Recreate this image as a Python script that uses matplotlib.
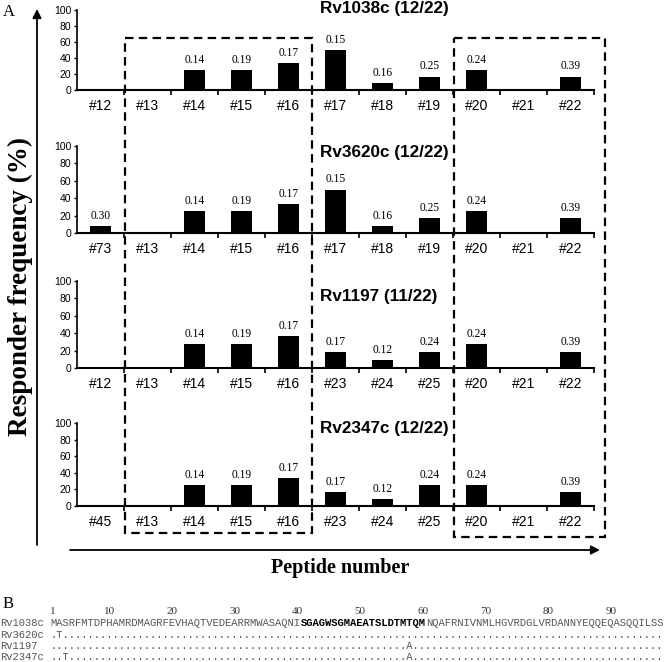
import matplotlib
matplotlib.use("Agg")
import matplotlib.pyplot as plt
from matplotlib.patches import Rectangle

W, H = 664, 662
DPI = 100

# ---------------- data ----------------
titles = ["Rv1038c (12/22)", "Rv3620c (12/22)", "Rv1197 (11/22)", "Rv2347c (12/22)"]

cats_1 = ["#12", "#13", "#14", "#15", "#16", "#17", "#18", "#19", "#20", "#21", "#22"]
vals_1 = [0, 0, 25, 25, 33.3, 50, 8.3, 16.7, 25, 0, 16.7]
lbls_1 = ["", "", "0.14", "0.19", "0.17", "0.15", "0.16", "0.25", "0.24", "", "0.39"]

cats_2 = ["#73", "#13", "#14", "#15", "#16", "#17", "#18", "#19", "#20", "#21", "#22"]
vals_2 = [8.3, 0, 25, 25, 33.3, 50, 8.3, 16.7, 25, 0, 16.7]
lbls_2 = ["0.30", "", "0.14", "0.19", "0.17", "0.15", "0.16", "0.25", "0.24", "", "0.39"]

cats_3 = ["#12", "#13", "#14", "#15", "#16", "#23", "#24", "#25", "#20", "#21", "#22"]
vals_3 = [0, 0, 27.3, 27.3, 36.4, 18.2, 9.1, 18.2, 27.3, 0, 18.2]
lbls_3 = ["", "", "0.14", "0.19", "0.17", "0.17", "0.12", "0.24", "0.24", "", "0.39"]

cats_4 = ["#45", "#13", "#14", "#15", "#16", "#23", "#24", "#25", "#20", "#21", "#22"]
vals_4 = [0, 0, 25, 25, 33.3, 16.7, 8.3, 25, 25, 0, 16.7]
lbls_4 = ["", "", "0.14", "0.19", "0.17", "0.17", "0.12", "0.24", "0.24", "", "0.39"]

yticks = [0, 20, 40, 60, 80, 100]

seq_names = ["Rv1038c", "Rv3620c", "Rv1197", "Rv2347c"]
seq_pre = "MASRFMTDPHAMRDMAGRFEVHAQTVEDEARRMWASAQNI"
seq_bold = "SGAGWSGMAEATSLDTMTQM"
seq_post = "NQAFRNIVNMLHGVRDGLVRDANNYEQQEQASQQILSS"
seq_rows = [
    None,
    ".T" + "." * 96,
    "." * 57 + "A" + "." * 40,
    "..T" + "." * 54 + "A" + "." * 40,
]
seq_numbers = [1, 10, 20, 30, 40, 50, 60, 70, 80, 90]

# ---------------- layout helpers ----------------
def rect(x0, ytop, x1, ybot):
    return [x0 / W, 1 - ybot / H, (x1 - x0) / W, (ybot - ytop) / H]

fig = plt.figure(figsize=(W / DPI, H / DPI), dpi=DPI)
fig.patch.set_facecolor("white")

SANS = "Liberation Sans"
SERIF = "Liberation Serif"
MONO = "Liberation Mono"

panels = [
    (cats_1, vals_1, lbls_1, (10, 90), (320, 8)),
    (cats_2, vals_2, lbls_2, (146, 233), (320, 152)),
    (cats_3, vals_3, lbls_3, (281, 368), (320, 297)),
    (cats_4, vals_4, lbls_4, (423, 506), (320, 429)),
]

X0, X1 = 77, 594

for (cats, vals, lbls, (yt, yb), _), title in zip(panels, titles):
    ax = fig.add_axes(rect(X0, yt, X1, yb))
    xs = list(range(len(cats)))
    bars = ax.bar(xs, vals, width=0.45, color="black", zorder=3)
    for b, t in zip(bars, lbls):
        if t:
            ax.annotate(t, (b.get_x() + b.get_width() / 2, b.get_height()),
                        xytext=(0, 3), textcoords="offset points",
                        ha="center", va="bottom", fontsize=8.3, family=SERIF)
    ax.set_xlim(-0.5, len(cats) - 0.5)
    ax.set_ylim(0, 100)
    ax.set_yticks(yticks)
    ax.set_yticklabels([str(v) for v in yticks], fontsize=7.5, family=SANS)
    ax.set_xticks(xs)
    ax.set_xticklabels(cats, fontsize=10, family=SANS)
    ax.set_xticks([i + 0.5 for i in range(len(cats))], minor=True)
    ax.tick_params(axis="x", which="major", length=0, pad=6.5)
    ax.tick_params(axis="x", which="minor", length=3.5, width=1.2, direction="out")
    ax.tick_params(axis="y", length=2.5, width=1, pad=1.5)
    for s in ["top", "right"]:
        ax.spines[s].set_visible(False)
    ax.spines["left"].set_linewidth(1.2)
    ax.spines["bottom"].set_linewidth(1.5)
    ax.patch.set_alpha(0)

# ---------------- overlay ----------------
ov = fig.add_axes([0, 0, 1, 1])
ov.set_xlim(0, W)
ov.set_ylim(H, 0)
ov.axis("off")
ov.patch.set_alpha(0)

for (_, _, _, _, (tx, ty)), title in zip(panels, titles):
    ov.text(tx, ty, title, ha="left", va="center", fontsize=12.3,
            fontweight="bold", family=SANS)

dash = (0, (3.8, 2.4))
ov.add_patch(Rectangle((125, 38), 312 - 125, 533 - 38, fill=False,
                       lw=1.6, ls=dash, ec="black", zorder=5))
ov.add_patch(Rectangle((454, 38), 605 - 454, 537 - 38, fill=False,
                       lw=1.6, ls=dash, ec="black", zorder=5))

ov.annotate("", xy=(37, 9), xytext=(37, 545),
            arrowprops=dict(arrowstyle="-|>", lw=1.3, color="black",
                            mutation_scale=13, shrinkA=0, shrinkB=0))
ov.annotate("", xy=(600, 550), xytext=(70, 550),
            arrowprops=dict(arrowstyle="-|>", lw=1.3, color="black",
                            mutation_scale=13, shrinkA=0, shrinkB=0))

ov.text(3, 12, "A", ha="left", va="center", fontsize=12, family=SERIF)
ov.text(3, 604, "B", ha="left", va="center", fontsize=12, family=SERIF)
ov.text(20, 287, "Responder frequency (%)", rotation=90, ha="center", va="center",
        fontsize=19.5, fontweight="bold", family=SERIF)
ov.text(340, 568, "Peptide number", ha="center", va="center",
        fontsize=14.5, fontweight="bold", family=SERIF)

# sequence alignment
cw = 664 / 106.0
fs_mono = cw / 0.6 * 72 / DPI
gray = "#555555"
start = 8 * cw
for n in seq_numbers:
    ov.text(start + (n - 1) * cw + cw / 2, 611, str(n), ha="center", va="center",
            fontsize=8, family=SERIF, color="#333333")
row_y = [623, 634.5, 646, 657.5]
for i, (name, r) in enumerate(zip(seq_names, seq_rows)):
    y = row_y[i]
    ov.text(0, y, name, ha="left", va="center", fontsize=fs_mono, family=MONO, color=gray)
    if r is None:
        ov.text(start, y, seq_pre, ha="left", va="center", fontsize=fs_mono, family=MONO, color=gray)
        ov.text(start + len(seq_pre) * cw, y, seq_bold, ha="left", va="center",
                fontsize=fs_mono, family=MONO, fontweight="bold", color="black")
        ov.text(start + (len(seq_pre) + len(seq_bold)) * cw, y, seq_post, ha="left",
                va="center", fontsize=fs_mono, family=MONO, color=gray)
    else:
        ov.text(start, y, r, ha="left", va="center", fontsize=fs_mono, family=MONO, color=gray)

fig.savefig("out.png", dpi=DPI)
